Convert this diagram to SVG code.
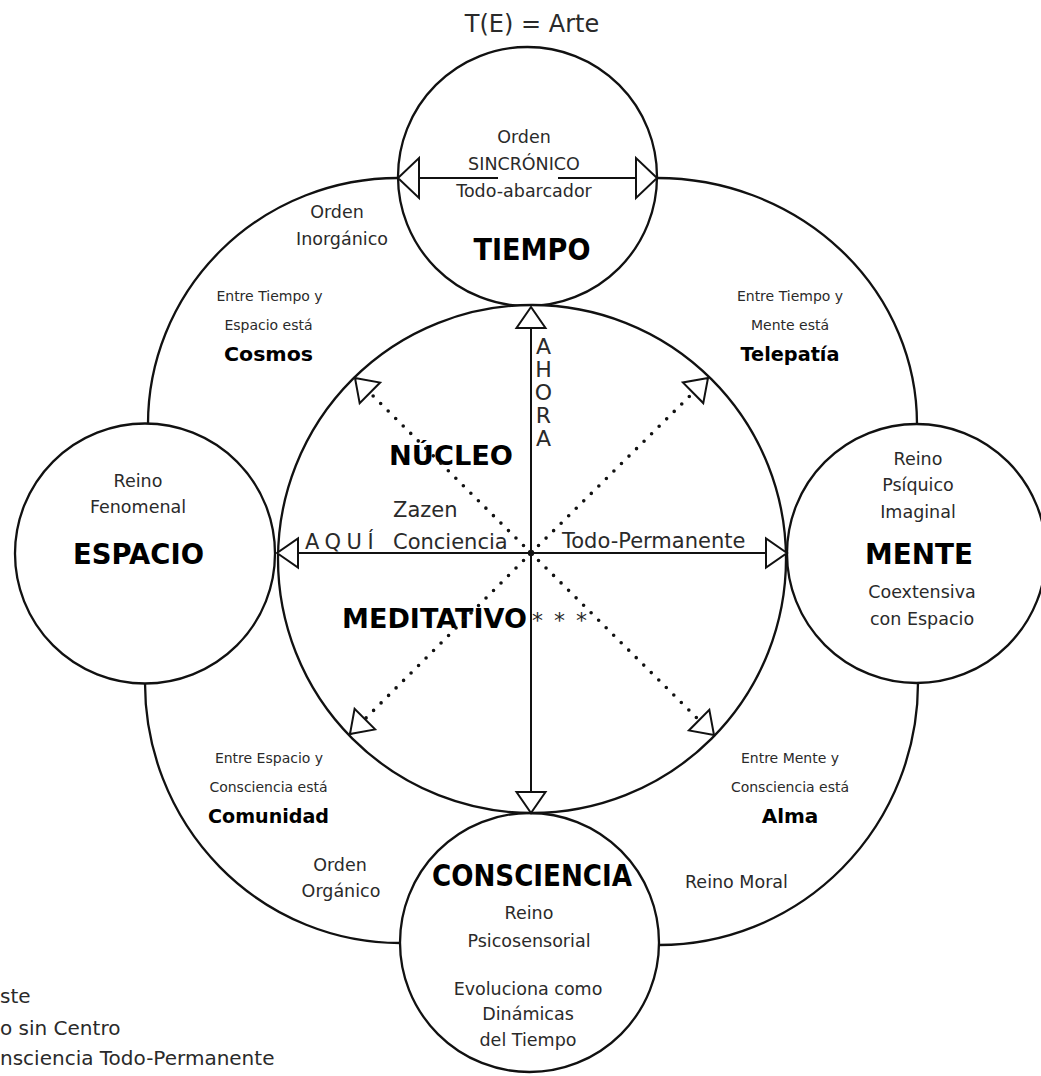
<svg xmlns="http://www.w3.org/2000/svg" width="1041" height="1076" viewBox="0 0 1041 1076">
<style>
text{font-family:"DejaVu Sans","Liberation Sans",sans-serif;fill:#2a2a2a}
.r{font-size:17.5px;text-anchor:middle}
.s{font-size:14px;text-anchor:middle}
.b{font-weight:bold;fill:#000;text-anchor:middle}
.c{font-size:21px}
.ring{fill:#fff;stroke:#111;stroke-width:2.3}
.arc{fill:none;stroke:#111;stroke-width:2.3}
.ln{fill:none;stroke:#111;stroke-width:2}
.dot{fill:none;stroke:#111;stroke-width:3.6;stroke-linecap:round;stroke-dasharray:0 10.6}
</style>
<defs>
<marker id="ah" markerUnits="userSpaceOnUse" viewBox="-25 -25 30 50" markerWidth="30" markerHeight="50" refX="0" refY="0" orient="auto-start-reverse" overflow="visible">
<path d="M0,0 L-21,-14.5 L-21,14.5 Z" fill="#fff" stroke="#111" stroke-width="2"/>
</marker>
<marker id="ahT" markerUnits="userSpaceOnUse" viewBox="-25 -25 30 50" markerWidth="30" markerHeight="50" refX="0" refY="0" orient="auto" overflow="visible">
<path d="M0,0 L-21,-20 L-21,20 Z" fill="#fff" stroke="#111" stroke-width="2"/>
</marker>
</defs>
<rect width="1041" height="1076" fill="#fff"/>

<g id="connectors">
<path class="arc" d="M657,178 A260,246 0 0 1 917,424"/>
<path class="arc" d="M398,178 A250,246 0 0 0 148,424"/>
<path class="arc" d="M145,683 A255,260 0 0 0 400,943"/>
<path class="arc" d="M659,945 A259,262 0 0 0 918,683"/>
</g>

<g id="tiempo">
<circle class="ring" cx="527.5" cy="176.5" r="129.5"/>
<text class="r" x="524" y="143">Orden</text>
<text class="r" x="524" y="170">SINCRÓNICO</text>
<text class="r" x="524" y="197">Todo-abarcador</text>
<text class="b" x="532" y="260" font-size="30" textLength="117" lengthAdjust="spacingAndGlyphs">TIEMPO</text>
</g>

<g id="espacio">
<circle class="ring" cx="145" cy="553.5" r="130"/>
<text class="r" x="138" y="487">Reino</text>
<text class="r" x="138" y="513">Fenomenal</text>
<text class="b" x="138.5" y="564" font-size="29" textLength="131" lengthAdjust="spacingAndGlyphs">ESPACIO</text>
</g>

<g id="mente">
<circle class="ring" cx="916.5" cy="553.5" r="129.5"/>
<text class="r" x="918" y="465">Reino</text>
<text class="r" x="918" y="491">Psíquico</text>
<text class="r" x="918" y="518">Imaginal</text>
<text class="b" x="919" y="564" font-size="29" textLength="108" lengthAdjust="spacingAndGlyphs">MENTE</text>
<text class="r" x="922" y="598">Coextensiva</text>
<text class="r" x="922" y="625">con Espacio</text>
</g>

<g id="consciencia">
<circle class="ring" cx="529.5" cy="942.5" r="129.5"/>
<text class="b" x="532" y="886" font-size="31" textLength="200" lengthAdjust="spacingAndGlyphs">CONSCIENCIA</text>
<text class="r" x="529" y="919">Reino</text>
<text class="r" x="529" y="947">Psicosensorial</text>
<text class="r" x="528" y="995">Evoluciona como</text>
<text class="r" x="528" y="1020">Dinámicas</text>
<text class="r" x="528" y="1046">del Tiempo</text>
</g>

<g id="nucleo">
<circle class="ring" cx="532" cy="559" r="254"/>
<text class="b" x="451" y="465" font-size="27" textLength="124" lengthAdjust="spacingAndGlyphs">NÚCLEO</text>
<text class="c" x="393" y="517">Zazen</text>
<text class="c" x="393" y="549">Conciencia</text>
<text class="c" x="305" y="549" letter-spacing="5.5">AQUÍ</text>
<text class="c" x="562" y="548">Todo-Permanente</text>
<text class="b" x="434.5" y="628" font-size="27" textLength="185" lengthAdjust="spacingAndGlyphs">MEDITATIVO</text>
<text x="532" y="628" font-size="22" fill="#000" letter-spacing="2">* * *</text>
<text font-size="22" text-anchor="middle"><tspan x="543.5" y="354">A</tspan><tspan x="543.5" y="377">H</tspan><tspan x="543.5" y="400">O</tspan><tspan x="543.5" y="423">R</tspan><tspan x="543.5" y="446">A</tspan></text>
</g>

<g id="arrows">
<path class="ln" d="M498,178 L398,178" marker-end="url(#ahT)"/>
<path class="ln" d="M558,178 L657,178" marker-end="url(#ahT)"/>
<path class="ln" d="M531,307 L531,813" marker-start="url(#ah)" marker-end="url(#ah)"/>
<path class="ln" d="M277,553 L787,553" marker-start="url(#ah)" marker-end="url(#ah)"/>
<path class="dot" d="M531,553 L355,378" marker-end="url(#ah)"/>
<path class="dot" d="M531,553 L708,378" marker-end="url(#ah)"/>
<path class="dot" d="M531,553 L350,734" marker-end="url(#ah)"/>
<path class="dot" d="M531,553 L714,735" marker-end="url(#ah)"/>
<circle cx="531" cy="553" r="3.2" fill="#111"/>
</g>

<g id="cosmos">
<text class="r" x="337" y="218">Orden</text>
<text class="r" x="342" y="245">Inorgánico</text>
<text class="s" x="269.5" y="301">Entre Tiempo y</text>
<text class="s" x="268.5" y="330">Espacio está</text>
<text class="b" x="268.5" y="361" font-size="20" textLength="89" lengthAdjust="spacingAndGlyphs">Cosmos</text>
</g>

<g id="telepatia">
<text class="s" x="790" y="301">Entre Tiempo y</text>
<text class="s" x="790" y="330">Mente está</text>
<text class="b" x="790" y="361" font-size="20" textLength="99" lengthAdjust="spacingAndGlyphs">Telepatía</text>
</g>

<g id="comunidad">
<text class="s" x="269" y="763">Entre Espacio y</text>
<text class="s" x="268.5" y="792">Consciencia está</text>
<text class="b" x="268.5" y="823" font-size="20" textLength="121" lengthAdjust="spacingAndGlyphs">Comunidad</text>
<text class="r" x="340" y="871">Orden</text>
<text class="r" x="341" y="897">Orgánico</text>
</g>

<g id="alma">
<text class="s" x="790" y="763">Entre Mente y</text>
<text class="s" x="790" y="792">Consciencia está</text>
<text class="b" x="790" y="823" font-size="20">Alma</text>
<text class="r" x="685" y="888" text-anchor="start" style="text-anchor:start">Reino Moral</text>
</g>

<g id="title">
<text x="532" y="32" font-size="24" text-anchor="middle">T(E) = Arte</text>
</g>

<g id="notes">
<text x="0" y="1003" font-size="20">ste</text>
<text x="0" y="1035" font-size="20">o sin Centro</text>
<text x="0" y="1065" font-size="20">nsciencia Todo-Permanente</text>
</g>
</svg>
